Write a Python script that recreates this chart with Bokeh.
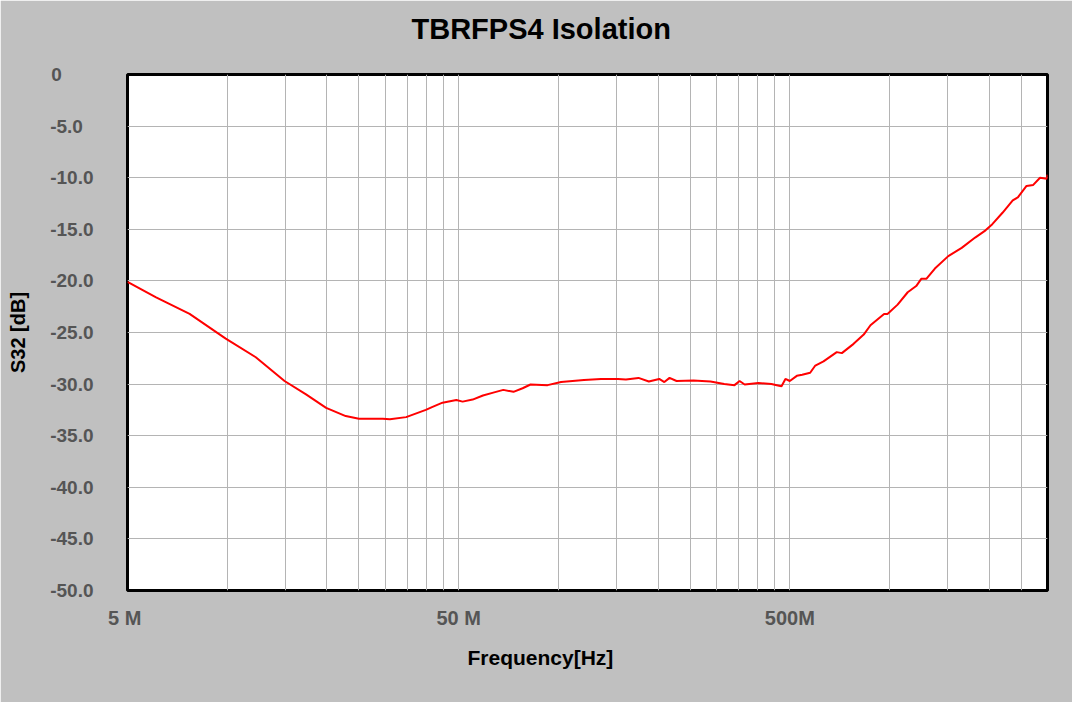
import math
from bokeh.plotting import figure
from bokeh.models import FixedTicker, Range1d, Title
from bokeh.embed import file_html
from bokeh.resources import INLINE

# ---------------- data ----------------
freq_mhz = [5, 6.1, 7.7, 9.9, 12.2, 14.9, 17.3, 19.9, 22.8, 25, 29.5, 31, 34.7,
            39.8, 41.7, 44.7, 49.2, 51.4, 55.1, 59.2, 64, 68.2, 73.2, 78, 82.4,
            92.8, 101.9, 119.5, 134.5, 151.4, 160, 174.6, 187.6, 201.7, 209,
            216.7, 227.5, 255.9, 288, 316.9, 340.4, 352.6, 365.3, 401.7, 440,
            463.9, 472, 485, 500, 525, 545, 576, 597, 632, 693, 718, 779, 836,
            876, 963, 986, 1058, 1135, 1204, 1247, 1292, 1371, 1505, 1652, 1814,
            1950, 2044, 2194, 2356, 2441, 2593, 2717, 2848, 2988, 3000]
s32_db = [-20.1, -21.6, -23.2, -25.6, -27.4, -29.7, -31.0, -32.3, -33.1, -33.35,
          -33.35, -33.4, -33.2, -32.5, -32.2, -31.8, -31.55, -31.7, -31.5, -31.1,
          -30.8, -30.56, -30.75, -30.4, -30.04, -30.1, -29.8, -29.6, -29.5, -29.5,
          -29.55, -29.4, -29.75, -29.5, -29.8, -29.4, -29.7, -29.65, -29.75, -30.0,
          -30.1, -29.7, -30.04, -29.9, -30.0, -30.15, -30.2, -29.5, -29.7, -29.2,
          -29.1, -28.9, -28.2, -27.8, -26.9, -27.0, -26.1, -25.2, -24.3, -23.2,
          -23.2, -22.3, -21.1, -20.5, -19.8, -19.8, -18.8, -17.6, -16.8, -15.8,
          -15.1, -14.5, -13.4, -12.2, -11.9, -10.8, -10.7, -10.0, -10.1, -9.7]

x_tick_values = [5, 50, 500]
x_tick_labels = ["5  M", "50 M", "500M"]
x_grid_values = [10, 15, 20, 25, 30, 35, 40, 45, 50,
                 100, 150, 200, 250, 300, 350, 400, 450, 500,
                 1000, 1500, 2000, 2500]
y_tick_values = [0, -5, -10, -15, -20, -25, -30, -35, -40, -45, -50]
y_tick_labels = ["0", "-5.0", "-10.0", "-15.0", "-20.0", "-25.0", "-30.0",
                 "-35.0", "-40.0", "-45.0", "-50.0"]

title_text = "TBRFPS4 Isolation"
x_label_text = "Frequency[Hz]"
y_label_text = "S32 [dB]"

# ---------------- figure ----------------
FONT = "Liberation Sans"
BG = "#c0c0c0"
TICK_COLOR = "#555555"
FIG = "\u2007"  # figure space: pads labels so they line up on the left


def pad(label):
    # left-align the tick labels like the reference (digit-width padding)
    target = len("-10.0")
    return label + FIG * max(0, target - len(label) - (1 if label == "0" else 0))


p = figure(width=1072, height=702, title=None,
           x_axis_type="log", x_range=Range1d(5, 3000), y_range=Range1d(-50, 0),
           output_backend="svg", toolbar_location=None,
           min_border_left=127, min_border_right=25,
           min_border_top=74, min_border_bottom=112)

p.border_fill_color = BG
p.background_fill_color = "white"
p.outline_line_color = "black"
p.outline_line_width = 3

# x axis
xa = p.xaxis[0]
xa.ticker = FixedTicker(ticks=x_tick_values, minor_ticks=[])
xa.major_label_overrides = {v: t for v, t in zip(x_tick_values, x_tick_labels)}
xa.axis_line_color = None
xa.major_tick_line_color = None
xa.minor_tick_line_color = None
xa.major_tick_out = 0
xa.major_tick_in = 0
xa.major_label_standoff = 16
xa.major_label_text_font = FONT
xa.major_label_text_font_style = "bold"
xa.major_label_text_font_size = "20px"
xa.major_label_text_color = TICK_COLOR

# y axis
ya = p.yaxis[0]
ya.ticker = FixedTicker(ticks=y_tick_values, minor_ticks=[])
ya.major_label_overrides = {v: pad(t) for v, t in zip(y_tick_values, y_tick_labels)}
ya.axis_line_color = None
ya.major_tick_line_color = None
ya.minor_tick_line_color = None
ya.major_tick_out = 0
ya.major_tick_in = 0
ya.major_label_standoff = 34
ya.major_label_text_font = FONT
ya.major_label_text_font_style = "bold"
ya.major_label_text_font_size = "19px"
ya.major_label_text_color = TICK_COLOR
ya.axis_label = y_label_text
ya.axis_label_standoff = 18
ya.axis_label_text_font = FONT
ya.axis_label_text_font_style = "bold"
ya.axis_label_text_font_size = "20px"
ya.axis_label_text_color = "black"

p.xgrid.ticker = FixedTicker(ticks=x_grid_values, minor_ticks=[])
p.ygrid.ticker = FixedTicker(ticks=y_tick_values, minor_ticks=[])
for g in (p.xgrid[0], p.ygrid[0]):
    g.grid_line_color = "#b4b4b4"
    g.grid_line_width = 1

p.line(freq_mhz, s32_db, line_color="#ff0000", line_width=2)

main_title = Title(text=title_text, align="left", offset=284,
                   vertical_align="bottom", standoff=0,
                   text_font=FONT, text_font_style="bold",
                   text_font_size="29px", text_color="black")
if "padding" in main_title.properties():
    main_title.padding = dict(left=0, right=0, top=0, bottom=30)
else:
    main_title.standoff = 40
p.add_layout(main_title, "above")

p.add_layout(Title(text=x_label_text, align="left", offset=340,
                   vertical_align="top", standoff=28,
                   text_font=FONT, text_font_style="bold",
                   text_font_size="21px", text_color="black"), "below")

open("out.html", "w").write(file_html(p, INLINE))
